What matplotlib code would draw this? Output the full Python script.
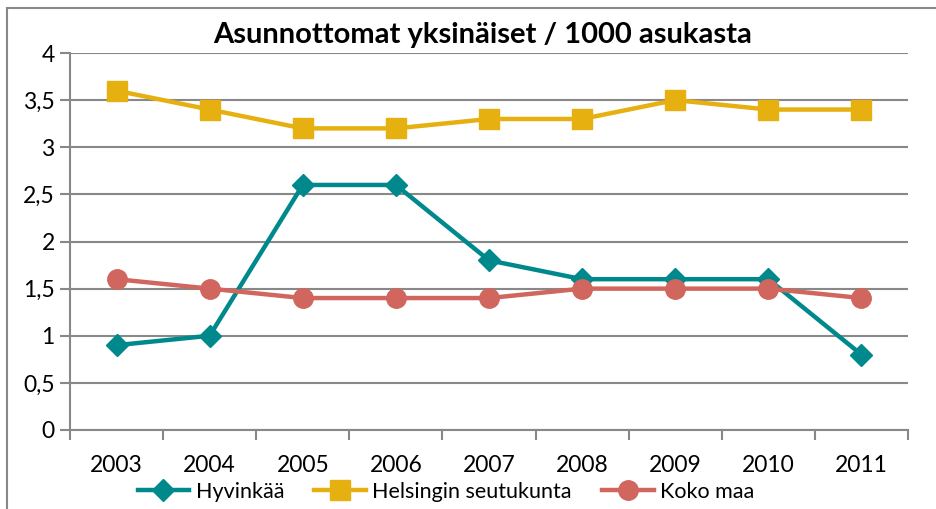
import matplotlib
matplotlib.use("Agg")
import matplotlib.pyplot as plt
from matplotlib.patches import Rectangle
from matplotlib.ticker import FixedLocator, FuncFormatter

years = ["2003", "2004", "2005", "2006", "2007", "2008", "2009", "2010", "2011"]
hyvinkaa = [0.9, 1.0, 2.6, 2.6, 1.8, 1.6, 1.6, 1.6, 0.8]
helsinki = [3.6, 3.4, 3.2, 3.2, 3.3, 3.3, 3.5, 3.4, 3.4]
koko_maa = [1.6, 1.5, 1.4, 1.4, 1.4, 1.5, 1.5, 1.5, 1.4]
y_ticks = [0, 0.5, 1, 1.5, 2, 2.5, 3, 3.5, 4]

plt.rcParams['font.family'] = ['Lato', 'DejaVu Sans']

W, H = 937, 509
fig = plt.figure(figsize=(W / 100, H / 100), dpi=100)
ax = fig.add_axes([70 / W, 1 - 430 / H, (908 - 70) / W, (430 - 53) / H])

grid_c = "#888888"
x = list(range(len(years)))
ax.plot(x, hyvinkaa, color="#00898C", lw=3.2, marker="D", ms=11, label="Hyvinkää", zorder=3)
ax.plot(x, helsinki, color="#E6B010", lw=3.2, marker="s", ms=14, label="Helsingin seutukunta", zorder=3)
ax.plot(x, koko_maa, color="#D0665E", lw=3.2, marker="o", ms=14, label="Koko maa", zorder=3)

ax.set_xlim(-0.5, len(years) - 0.5)
ax.set_ylim(0, 4)
ax.set_yticks(y_ticks)
ax.yaxis.set_major_formatter(FuncFormatter(lambda v, p: ("%g" % v).replace(".", ",")))
ax.set_xticks(x)
ax.set_xticklabels(years)
ax.xaxis.set_minor_locator(FixedLocator([i - 0.5 for i in range(len(years) + 1)]))
ax.tick_params(axis="x", which="major", length=0, pad=18, labelsize=16.5)
ax.tick_params(axis="x", which="minor", length=7, width=1.5, color=grid_c, direction="out")
ax.tick_params(axis="y", length=7, width=1.5, color=grid_c, labelsize=16.5, pad=4)
ax.grid(axis="y", color=grid_c, lw=1.5)
ax.set_axisbelow(True)
for s in ["top", "right"]:
    ax.spines[s].set_visible(False)
for s in ["left", "bottom"]:
    ax.spines[s].set_color(grid_c)
    ax.spines[s].set_linewidth(1.5)

fig.text(483 / W, 1 - 35 / H, "Asunnottomat yksinäiset / 1000 asukasta",
         ha="center", va="center", fontsize=21, fontweight="bold")

leg = fig.legend(loc="center", bbox_to_anchor=(446 / W, 1 - 492 / H), ncol=3, frameon=False,
                 fontsize=15.5, handlelength=2.4, handletextpad=0.3, columnspacing=1.4)

fig.patches.append(Rectangle((7 / W, -0.05), 1.1, 1 - 7.5 / H + 0.05, transform=fig.transFigure,
                             fill=False, edgecolor="#888888", lw=1.5))

fig.savefig("out.png", dpi=100)
